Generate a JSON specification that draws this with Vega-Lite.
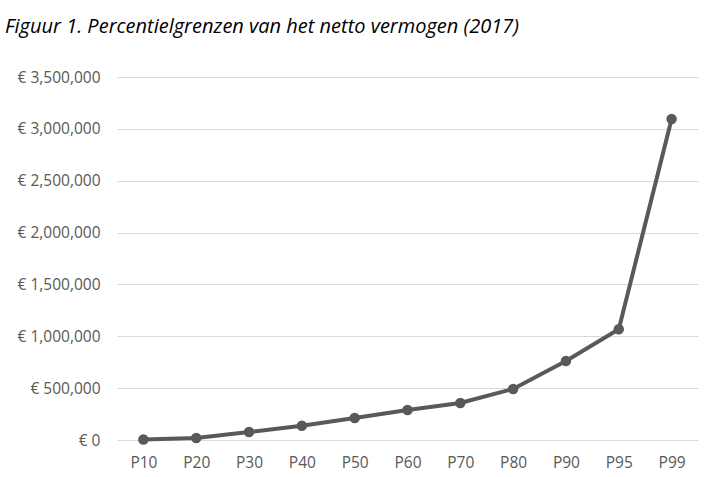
{
  "$schema": "https://vega.github.io/schema/vega-lite/v6.json",
  "width": 581,
  "height": 363,
  "autosize": {"type": "none"},
  "padding": {"left": 117, "top": 77, "right": 11, "bottom": 37},
  "background": "white",
  "title": {
    "text": "Figuur 1. Percentielgrenzen van het netto vermogen (2017)",
    "anchor": "start",
    "frame": "group",
    "dx": -112,
    "offset": 33,
    "font": "Open Sans",
    "fontStyle": "italic",
    "fontWeight": "normal",
    "fontSize": 20,
    "color": "#000000"
  },
  "data": {
    "values": [
      {"p": "P10", "v": 5000},
      {"p": "P20", "v": 20000},
      {"p": "P30", "v": 77000},
      {"p": "P40", "v": 137000},
      {"p": "P50", "v": 212000},
      {"p": "P60", "v": 290000},
      {"p": "P70", "v": 357000},
      {"p": "P80", "v": 492000},
      {"p": "P90", "v": 762000},
      {"p": "P95", "v": 1068000},
      {"p": "P99", "v": 3095000}
    ]
  },
  "config": {
    "view": {"stroke": null},
    "axis": {"labelFont": "Open Sans", "labelFontSize": 15.5, "labelColor": "#595959", "domain": false, "ticks": false, "title": null}
  },
  "encoding": {
    "x": {
      "field": "p", "type": "ordinal", "sort": null,
      "scale": {"paddingInner": 0, "paddingOuter": 0},
      "axis": {"labelAngle": 0, "labelPadding": 15, "grid": false}
    },
    "y": {
      "field": "v", "type": "quantitative",
      "scale": {"domain": [0, 3500000]},
      "axis": {"values": [0, 500000, 1000000, 1500000, 2000000, 2500000, 3000000, 3500000],
        "labelExpr": "'€ ' + format(datum.value, ',')",
        "labelPadding": 17, "gridColor": "#d9d9d9", "gridWidth": 1}
    }
  },
  "mark": {"type": "line", "color": "#595959", "strokeWidth": 4, "point": {"filled": true, "size": 110, "color": "#595959", "opacity": 1}}
}
